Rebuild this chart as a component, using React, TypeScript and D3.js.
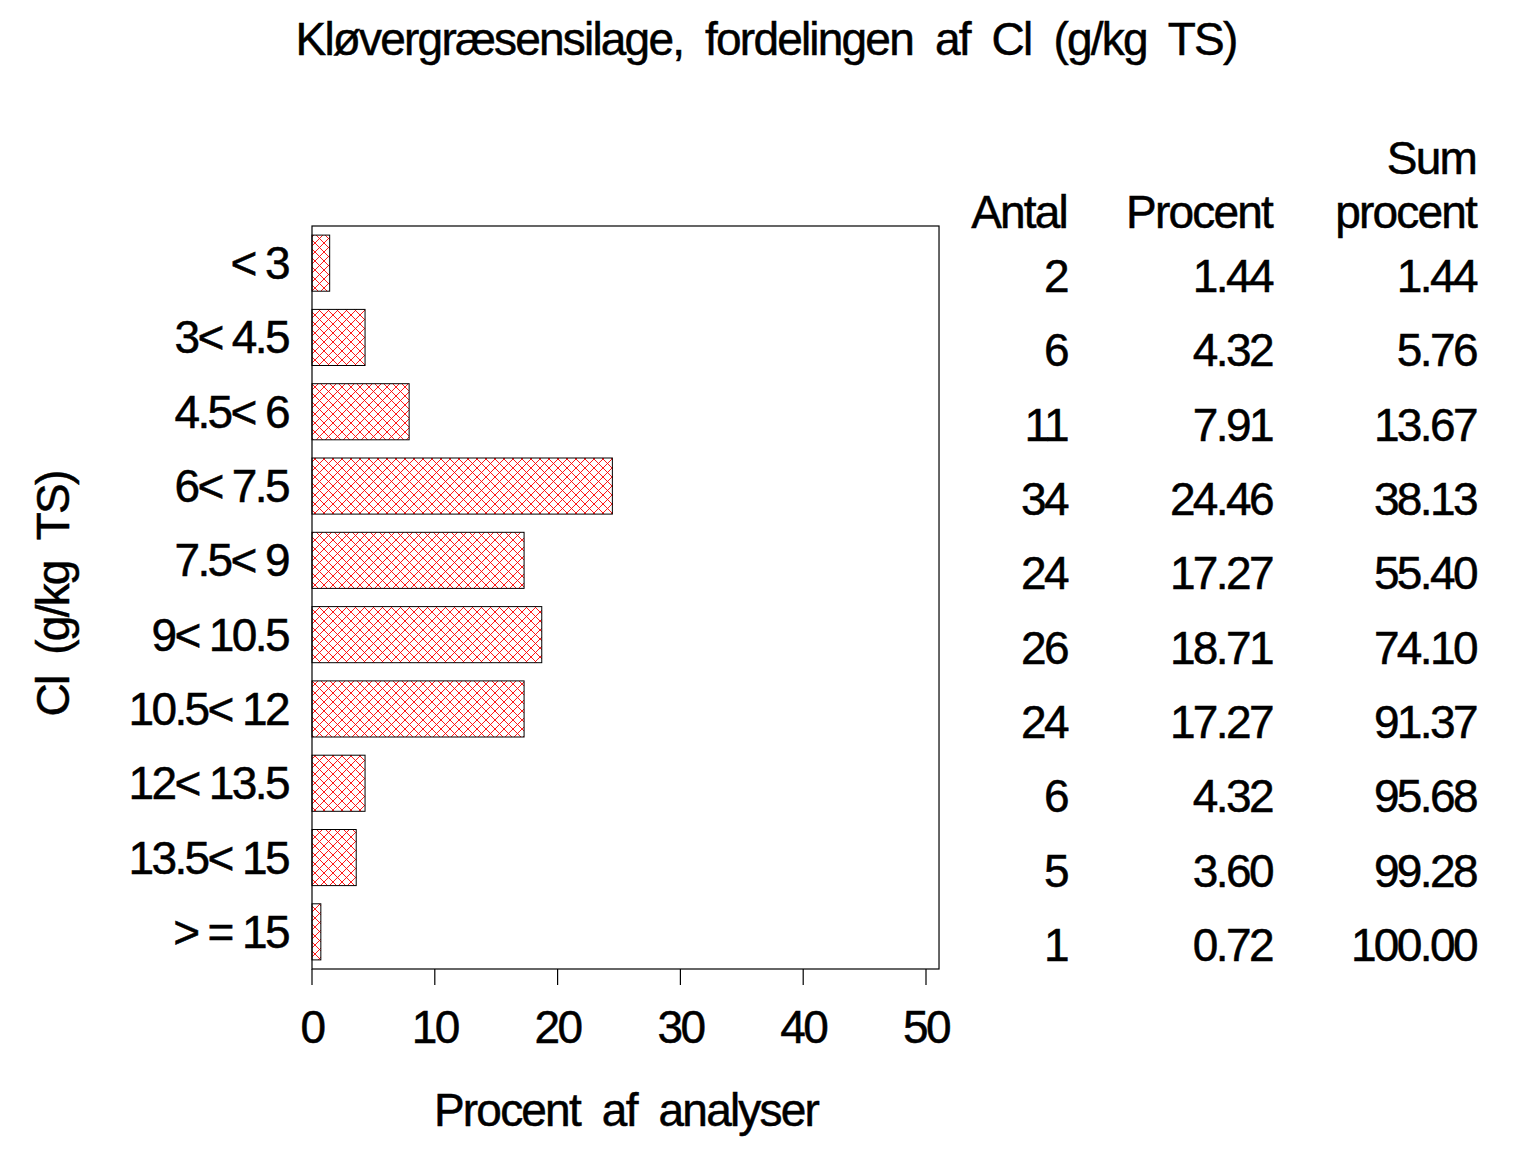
import * as d3 from "d3";

const categories = ["< 3", "3< 4.5", "4.5< 6", "6< 7.5", "7.5< 9", "9< 10.5", "10.5< 12", "12< 13.5", "13.5< 15", "> = 15"];
const antal = [2, 6, 11, 34, 24, 26, 24, 6, 5, 1];
const procent = [1.44, 4.32, 7.91, 24.46, 17.27, 18.71, 17.27, 4.32, 3.6, 0.72];
const sumProcent = [1.44, 5.76, 13.67, 38.13, 55.4, 74.1, 91.37, 95.68, 99.28, 100.0];
const xTicks = [0, 10, 20, 30, 40, 50];

const W = 1536;
const H = 1152;
const font = "'Liberation Sans', Arial, sans-serif";
const fs = 46;

export default function App() {
  const left = 312;
  const top = 226;
  const bottom = 969;

  const x = d3.scaleLinear().domain([0, 50]).range([left, 926]);
  const right = x(51.06);

  const y = d3
    .scaleBand<string>()
    .domain(categories)
    .range([top, bottom])
    .paddingInner(0.245)
    .paddingOuter(0.1225);

  const mid = (c: string) => y(c)! + y.bandwidth() / 2;

  const cols = [
    { x: 1067, head: ["Antal"], vals: antal.map((d) => String(d)) },
    { x: 1272, head: ["Procent"], vals: procent.map((d) => d.toFixed(2)) },
    { x: 1476, head: ["Sum", "procent"], vals: sumProcent.map((d) => d.toFixed(2)) },
  ];

  // SAS-style text: slightly condensed, a touch heavier
  const txt = (spacing: number) => ({
    fontFamily: font,
    fontSize: fs,
    letterSpacing: spacing,
    whiteSpace: "pre" as const,
    stroke: "#000",
    strokeWidth: 0.5,
  });
  const wordStyle = txt(-1.8);
  const numStyle = txt(-2.6);

  return (
    <svg width={W} height={H} style={{ display: "block", margin: -8, background: "#fff" }}>
      <defs>
        <pattern id="hatch" patternUnits="userSpaceOnUse" width={9} height={9}>
          <path d="M0,0 L9,9 M9,0 L0,9" stroke="#ff0000" strokeWidth={0.9} fill="none" />
        </pattern>
      </defs>

      {/* title */}
      <text x={766} y={55} textAnchor="middle" style={wordStyle}>
        {"Kløvergræsensilage,  fordelingen  af  Cl  (g/kg  TS)"}
      </text>

      {/* bars */}
      {categories.map((c, i) => (
        <rect
          key={c}
          x={x(0)}
          y={y(c)!}
          width={x(procent[i]) - x(0)}
          height={y.bandwidth()}
          fill="url(#hatch)"
          stroke="#000"
          strokeWidth={1}
        />
      ))}

      {/* frame */}
      <rect x={left} y={top} width={right - left} height={bottom - top} fill="none" stroke="#000" strokeWidth={1.2} />

      {/* x ticks */}
      {xTicks.map((t) => (
        <g key={t}>
          <line x1={x(t)} x2={x(t)} y1={bottom} y2={bottom + 16} stroke="#000" strokeWidth={1.2} />
          <text x={x(t)} y={1043} textAnchor="middle" style={numStyle}>
            {t}
          </text>
        </g>
      ))}

      {/* row labels */}
      {categories.map((c) => (
        <text key={c} x={288} y={mid(c) + 16} textAnchor="end" style={numStyle}>
          {c}
        </text>
      ))}

      {/* axis titles */}
      <text x={626} y={1126} textAnchor="middle" style={wordStyle}>
        {"Procent  af  analyser"}
      </text>
      <text transform="translate(69,594) rotate(-90)" textAnchor="middle" style={wordStyle}>
        {"Cl  (g/kg  TS)"}
      </text>

      {/* table */}
      {cols.map((col) => (
        <g key={col.x}>
          {col.head.map((h, k) => (
            <text key={h} x={col.x} y={228 - (col.head.length - 1 - k) * 54} textAnchor="end" style={wordStyle}>
              {h}
            </text>
          ))}
          {col.vals.map((v, i) => (
            <text key={i} x={col.x} y={mid(categories[i]) + 29} textAnchor="end" style={numStyle}>
              {v}
            </text>
          ))}
        </g>
      ))}
    </svg>
  );
}
